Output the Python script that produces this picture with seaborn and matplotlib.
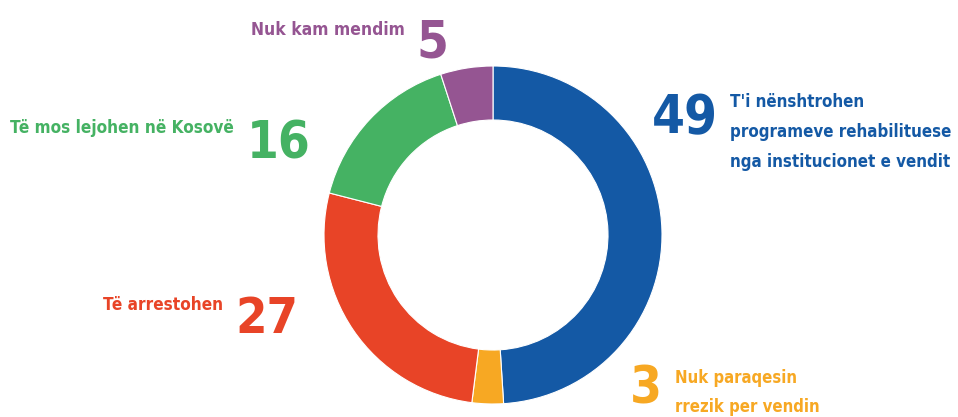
import matplotlib
matplotlib.use("Agg")
import matplotlib.pyplot as plt
import seaborn as sns

sns.set_theme(style="white")
plt.rcParams['font.family'] = ['DejaVu Sans']

# data (clockwise from top)
categories = ["T'i nënshtrohen\nprogrameve rehabilituese\nnga institucionet e vendit",
              "Nuk paraqesin\nrrezik per vendin",
              "Të arrestohen",
              "Të mos lejohen në Kosovë",
              "Nuk kam mendim"]
values = [49, 3, 27, 16, 5]
colors = ["#1459A5", "#F7A823", "#E84427", "#45B263", "#955592"]

W, H = 958, 417
fig = plt.figure(figsize=(W / 100, H / 100), dpi=100)
ax = fig.add_axes([0, 0, 1, 1])

cx, cy, R, ring = 493, H - 235, 169, 54
ax.pie(values, colors=colors, startangle=90, counterclock=False,
       center=(cx, cy), radius=R, frame=True,
       wedgeprops=dict(width=ring, edgecolor="white", linewidth=0.8))
ax.set_xlim(0, W)
ax.set_ylim(0, H)
ax.set_aspect("equal")
ax.axis("off")

def Y(y):
    return H - y

fig.canvas.draw()
renderer = fig.canvas.get_renderer()
style = dict(fontweight="bold", fontstretch="condensed", va="baseline")

def fitted(texts, target):
    fig.canvas.draw()
    w = max(t.get_window_extent(renderer).width for t in texts)
    for t in texts:
        t.set_fontsize(t.get_fontsize() * target / w)

def block(lines, x, y0, dy, color, target, ha="left"):
    ts = [ax.text(x, Y(y0 + i * dy), ln, color=color, fontsize=20, ha=ha, **style)
          for i, ln in enumerate(lines)]
    fitted(ts, target)
    return ts

def number(v, x, y, color, target, ha):
    t = ax.text(x, Y(y), str(v), color=color, fontsize=45, ha=ha, **style)
    fitted([t], target)
    return t

# 49 – right side
number(values[0], 718, 133, colors[0], 66, "right")
block(categories[0].split("\n"), 730, 107, 30, colors[0], 223)
# 3 – bottom right
number(values[1], 662, 404, colors[1], 32, "right")
block(categories[1].split("\n"), 675, 383, 29, colors[1], 145)
# 27 – left
block([categories[2]], 223, 310, 0, colors[2], 120, ha="right")
number(values[2], 235, 333, colors[2], 63, "left")
# 16 – upper left
block([categories[3]], 234, 133, 0, colors[3], 224, ha="right")
number(values[3], 247, 158, colors[3], 64, "left")
# 5 – top
block([categories[4]], 405, 35, 0, colors[4], 154, ha="right")
number(values[4], 416, 57, colors[4], 32, "left")

fig.savefig("out.png", dpi=100, facecolor="white")
